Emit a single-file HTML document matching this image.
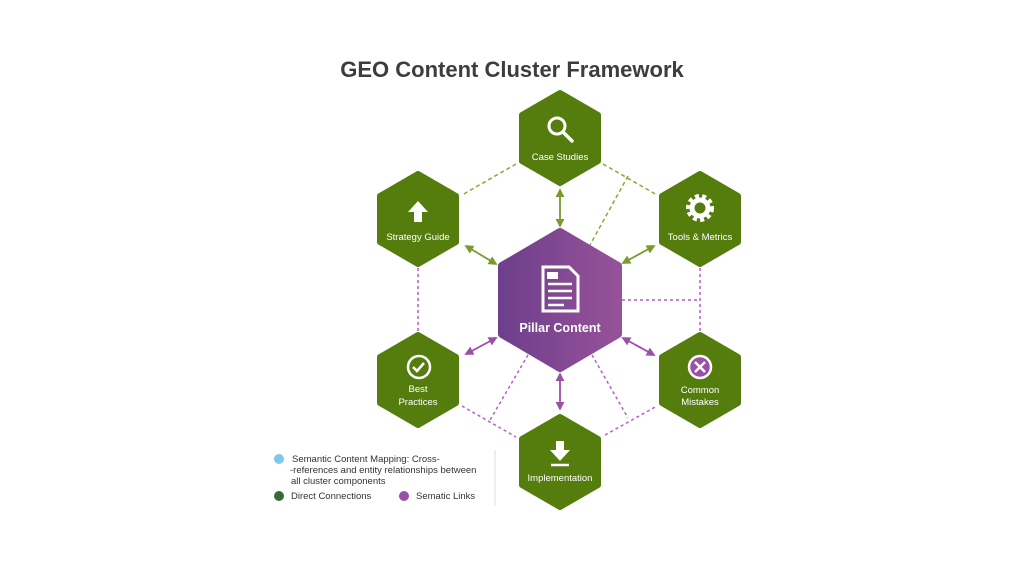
<!DOCTYPE html>
<html><head><meta charset="utf-8"><style>
body{margin:0;background:#fff;width:1024px;height:576px;overflow:hidden;font-family:"Liberation Sans",sans-serif}
</style></head><body>
<svg width="1024" height="576" viewBox="0 0 1024 576" xmlns="http://www.w3.org/2000/svg">
<defs>
<linearGradient id="pg" x1="0" y1="0" x2="1" y2="0"><stop offset="0" stop-color="#6e3f8c"/><stop offset="1" stop-color="#965299"/></linearGradient>
<marker id="ag" viewBox="0 0 10 10" refX="8" refY="5" markerWidth="5" markerHeight="5" orient="auto-start-reverse"><path d="M0,0L10,5L0,10z" fill="#7a9a2a"/></marker>
<marker id="ap" viewBox="0 0 10 10" refX="8" refY="5" markerWidth="5" markerHeight="5" orient="auto-start-reverse"><path d="M0,0L10,5L0,10z" fill="#9a4fa8"/></marker>
</defs>
<text x="512" y="77" text-anchor="middle" font-size="22" font-weight="bold" fill="#3d3d3d">GEO Content Cluster Framework</text>
<g stroke="#8aa832" stroke-width="1.5" stroke-dasharray="4,3" fill="none">
<line x1="516" y1="164" x2="462" y2="195"/><line x1="603" y1="164" x2="657" y2="195"/><line x1="628" y1="176" x2="590" y2="245"/>
</g>
<g stroke="#7a9a2a" stroke-width="1.8" fill="none">
<line x1="560" y1="190" x2="560" y2="226" marker-start="url(#ag)" marker-end="url(#ag)"/>
<line x1="466" y1="246" x2="496" y2="264" marker-start="url(#ag)" marker-end="url(#ag)"/>
<line x1="623" y1="263" x2="654" y2="246" marker-start="url(#ag)" marker-end="url(#ag)"/>
</g>
<g stroke="#b45cc8" stroke-width="1.5" stroke-dasharray="3,3" fill="none">
<line x1="418" y1="268" x2="418" y2="331"/><line x1="700" y1="268" x2="700" y2="331"/><line x1="622" y1="300" x2="700" y2="300"/>
<line x1="462" y1="406" x2="516" y2="437"/><line x1="528" y1="355" x2="490" y2="420"/><line x1="592" y1="355" x2="628" y2="418"/><line x1="605" y1="435" x2="657" y2="406"/>
</g>
<g stroke="#9a4fa8" stroke-width="1.8" fill="none">
<line x1="496" y1="338" x2="466" y2="354" marker-start="url(#ap)" marker-end="url(#ap)"/>
<line x1="623" y1="338" x2="654" y2="355" marker-start="url(#ap)" marker-end="url(#ap)"/>
<line x1="560" y1="374" x2="560" y2="409" marker-start="url(#ap)" marker-end="url(#ap)"/>
</g>
<g fill="#557d0e" stroke="#557d0e" stroke-width="6" stroke-linejoin="round">
<polygon points="560,93 598,115 598,161 560,183 522,161 522,115"/>
<polygon points="418,174 456,196 456,242 418,264 380,242 380,196"/>
<polygon points="700,174 738,196 738,242 700,264 662,242 662,196"/>
<polygon points="418,335 456,357 456,403 418,425 380,403 380,357"/>
<polygon points="700,335 738,357 738,403 700,425 662,403 662,357"/>
<polygon points="560,417 598,439 598,485 560,507 522,485 522,439"/>
</g>
<polygon points="560,232 618,266 618,334 560,368 502,334 502,266" fill="url(#pg)" stroke="url(#pg)" stroke-width="8" stroke-linejoin="round"/>
<g fill="#fff" font-size="9.5" text-anchor="middle">
<text x="560" y="160">Case Studies</text>
<text x="418" y="240">Strategy Guide</text>
<text x="700" y="240">Tools &amp; Metrics</text>
<text x="418" y="392">Best</text><text x="418" y="405">Practices</text>
<text x="700" y="393">Common</text><text x="700" y="405">Mistakes</text>
<text x="560" y="481">Implementation</text>
<text x="560" y="332" font-size="12.5" font-weight="bold">Pillar Content</text>
</g>
<g stroke="#fff" fill="none">
<circle cx="557" cy="126" r="8" stroke-width="3"/><line x1="563" y1="132" x2="572" y2="141" stroke-width="3.5" stroke-linecap="round"/>
<circle cx="419" cy="367" r="11" stroke-width="2.5"/><path d="M413,367l4,4l7,-8" stroke-width="2.5"/>
<circle cx="700" cy="367" r="11" stroke-width="2.5" fill="#9a4fa8"/><path d="M695,362l10,10M705,362l-10,10" stroke-width="2.5"/>
<circle cx="700" cy="208" r="8" stroke-width="5"/><circle cx="700" cy="208" r="12" stroke-width="4" stroke-dasharray="4,3.3"/>
<path d="M543,267h26l9,9v35h-35z" stroke-width="3"/>
<path d="M548,284h24M548,291h24M548,298h24M548,305h16" stroke-width="2.5"/>
<line x1="551" y1="465" x2="569" y2="465" stroke-width="2.5"/>
</g>
<rect x="547" y="272" width="11" height="7" fill="#fff"/>
<path d="M414,212h8v10h-8zM408,212l10,-11l10,11z" fill="#fff"/>
<path d="M556,441h8v9h6l-10,11l-10,-11h6z" fill="#fff"/>
<rect x="267" y="450" width="228" height="56" fill="#fff"/>
<line x1="495" y1="450" x2="495" y2="506" stroke="#ddd"/>
<circle cx="279" cy="459" r="5" fill="#7ec8ee"/>
<circle cx="279" cy="496" r="5" fill="#386b35"/>
<circle cx="404" cy="496" r="5" fill="#9a4fa8"/>
<g font-size="9.5" fill="#333">
<text x="292" y="462">Semantic Content Mapping: Cross-</text>
<text x="290" y="473">-references and entity relationships between</text>
<text x="291" y="484">all cluster components</text>
<text x="291" y="499">Direct Connections</text>
<text x="416" y="499">Sematic Links</text>
</g>
</svg>
</body></html>
